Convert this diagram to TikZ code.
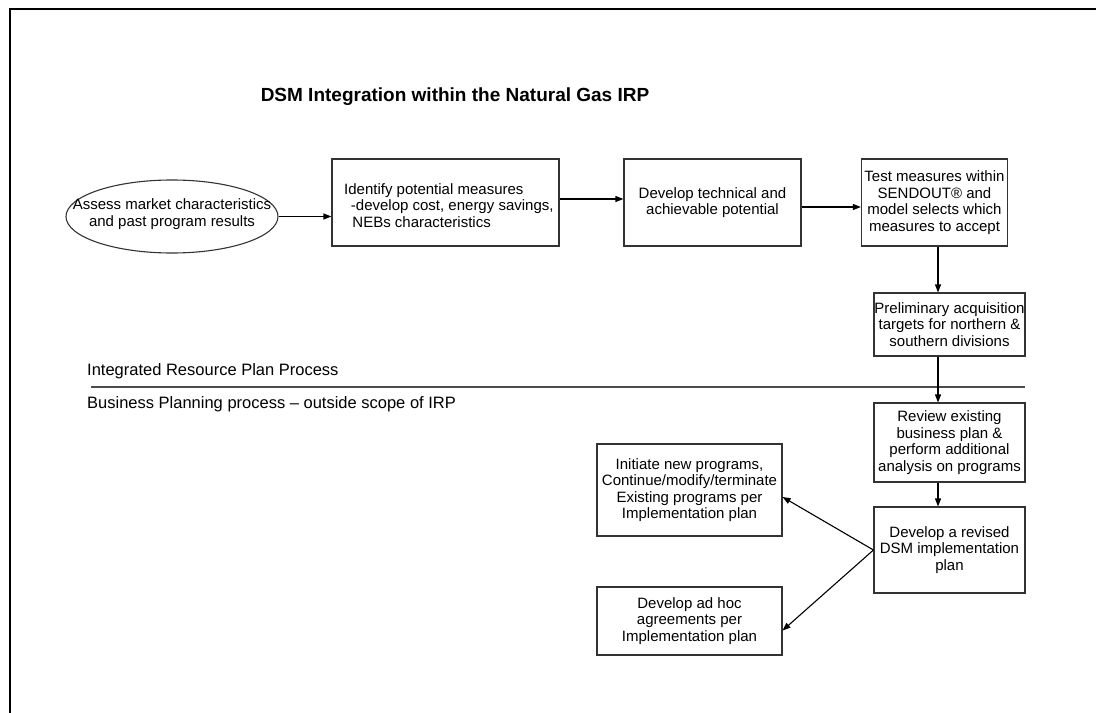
\documentclass[tikz,border=0pt]{standalone}
\usepackage{fontspec}
\setmainfont{Liberation Sans}
\usetikzlibrary{arrows.meta,shapes.geometric}
\begin{document}
\begin{tikzpicture}[x=1bp,y=-1bp,
  txt/.style={font=\fontsize{15bp}{16.5bp}\selectfont},
  bx/.style 2 args={draw=black!80,line width=1.1bp,minimum width=#1bp,minimum height=#2bp,
     align=center,inner sep=0pt,txt},
  arr/.style={-{Triangle[length=8bp,width=6bp]},line width=1.1bp,black},
  lbl/.style={anchor=west,inner sep=0pt,font=\fontsize{16.5bp}{19bp}\selectfont}
]
\useasboundingbox (0,0) rectangle (1096,713);
% frame
\coordinate (fbl) at (10,720);
\coordinate (ftl) at (10,9);
\coordinate (ftr) at (1104,9);
\draw[line width=2.6bp] (fbl) -- (ftl) -- (ftr);

\node[font=\bfseries\fontsize{19bp}{22bp}\selectfont,inner sep=0pt] (title) at (455,97)
  {DSM Integration within the Natural Gas IRP};

\node[ellipse,draw=black!80,line width=1.1bp,minimum width=212bp,minimum height=73bp,
  inner sep=0pt] (assess) at (172,216.5) {};
\node[txt,align=center,inner sep=0pt] (assesstxt) at (172,214)
  {Assess market characteristics\\and past program results};

\node[bx={227}{87}] (identify) at (445.5,202.5) {};
\node[txt,align=left,anchor=west,inner sep=0pt] (identifytxt) at (344,205.5)
  {Identify potential measures\\\hspace*{0.45em}-develop cost, energy savings,\\\hspace*{0.55em}NEBs characteristics};

\node[bx={177}{87}] (tech) at (712.5,202.5)
  {Develop technical and\\achievable potential};

\node[bx={146}{87}] (test) at (934.5,202.5)
  {Test measures within\\SENDOUT\textregistered{} and\\model selects which\\measures to accept};

\node[bx={151}{63}] (prelim) at (949.5,324.5)
  {Preliminary acquisition\\targets for northern \&\\southern divisions};

\node[bx={151}{79}] (review) at (949.5,442.5)
  {Review existing\\business plan \&\\perform additional\\analysis on programs};

\node[bx={151}{86}] (revised) at (949.5,550)
  {Develop a revised\\DSM implementation\\plan};

\node[bx={185}{92}] (initiate) at (689.5,490)
  {Initiate new programs,\\Continue/modify/terminate\\Existing programs per\\Implementation plan};

\node[bx={185}{68}] (adhoc) at (689.5,621)
  {Develop ad hoc\\agreements per\\Implementation plan};

% separator and labels
\draw[line width=1.4bp,black!70] (91,387) -- (1025,387);
\node[lbl] (irp) at (87,371) {Integrated Resource Plan Process};
\node[lbl] (bpp) at (87,404) {Business Planning process -- outside scope of IRP};

% connectors
\coordinate (vx) at (938,0);
\draw[arr] (assess.east) -- (assess.east -| identify.west);
\draw[arr] ([yshift=3.5bp]identify.east) -- ([yshift=3.5bp]identify.east -| tech.west);
\draw[arr] ([yshift=-4.5bp]tech.east) -- ([yshift=-4.5bp]tech.east -| test.west);
\draw[arr] (vx |- test.south) -- (vx |- prelim.north);
\draw[arr] (vx |- prelim.south) -- (vx |- review.north);
\draw[arr] (vx |- review.south) -- (vx |- revised.north);
\draw[arr] (revised.west) -- ([yshift=-7bp]initiate.east);
\draw[arr] (revised.west) -- ([yshift=-9.5bp]adhoc.east);
\end{tikzpicture}
\end{document}
